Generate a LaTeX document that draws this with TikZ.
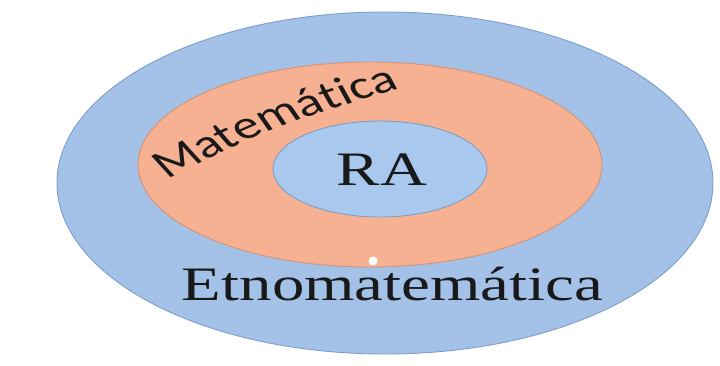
\documentclass[tikz,border=0pt]{standalone}
\usepackage{fontspec}
\setmainfont{Liberation Serif}
\newfontfamily\carl{Carlito}
\usetikzlibrary{decorations.text,shapes.geometric}
\definecolor{outerblue}{RGB}{164,194,231}
\definecolor{outerline}{RGB}{125,158,204}
\definecolor{orangefill}{RGB}{246,176,146}
\definecolor{orangeline}{RGB}{210,148,118}
\definecolor{innerblue}{RGB}{168,200,238}
\definecolor{innerline}{RGB}{128,158,196}
\begin{document}
\begin{tikzpicture}[x=1pt,y=-1pt,
  ring/.style={ellipse, draw, line width=0.9pt, inner sep=0pt},
  bigserif/.style={anchor=base, inner sep=0pt, text=black!90, font=\fontsize{48}{48}\selectfont}]
\useasboundingbox (0,0) rectangle (720,366);
\fill[white] (0,0) rectangle (720,366);
\node[ring, fill=outerblue, draw=outerline, minimum width=656pt, minimum height=342pt] (outer) at (385,183) {};
\node[ring, fill=orangefill, draw=orangeline, minimum width=464pt, minimum height=205pt] (mid) at (370,164.5) {};
\node[ring, fill=innerblue, draw=innerline, minimum width=214pt, minimum height=96pt] (inner) at (380,169) {};
\node[bigserif] (ra) at (382,186) {\scalebox{1.35}[1]{RA}};
\node[bigserif] (etno) at (392.5,300) {\scalebox{1.35}[1]{Etnomatemática}};
\node[circle, fill=white, minimum size=9pt, inner sep=0pt] (dot) at (373,261) {};
\begin{scope}[transform canvas={xscale=1.35}]
\path[decorate, decoration={text along path, text align=center,
  text={|\carl\fontsize{40}{40}\selectfont\color{black!90}|Matemática}}]
  (119.5,182.8) .. controls (205,125) .. (301.6,86.7);
\end{scope}
\end{tikzpicture}
\end{document}
